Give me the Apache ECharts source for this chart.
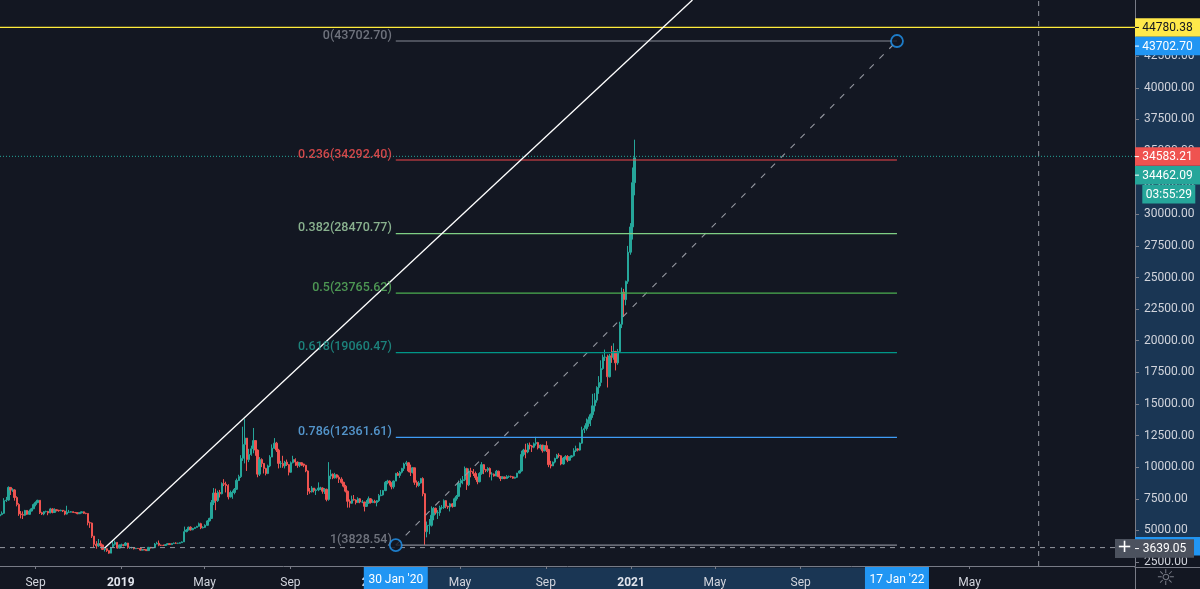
<!DOCTYPE html>
<html>
<head>
<meta charset="utf-8">
<title>BTC fib chart</title>
<style>html,body{margin:0;padding:0;background:#131722}#main{width:1200px;height:589px}</style>
<script src="https://cdn.jsdelivr.net/npm/echarts@6/dist/echarts.min.js"></script>
</head>
<body>
<div id="main"></div>
<script type="text/javascript">
// 3 day candles, first one on 12 Jul 2018, ten candles per row
var candleStart = '2018-07-12';
var candleDays = 3;
var closes = [
    6250,6350,7350,7400,8400,8200,8200,7600,7050,6300,
    6250,6200,6580,6270,6530,6710,7040,7200,7380,6400,
    6300,6480,6500,6380,6700,6420,6630,6590,6550,6590,
    6530,6290,6440,6440,6480,6420,6400,6320,6390,6470,
    6350,6340,5610,5580,4550,3900,3780,3950,3850,3500,
    3550,3400,3200,3650,3900,4050,3600,3850,3850,3820,
    4000,3650,3650,3650,3550,3580,3570,3440,3480,3470,
    3400,3660,3610,3630,3920,3980,3830,3820,3810,3870,
    3950,3880,3960,3990,3980,3980,4030,4090,4900,5030,
    5250,5050,5150,5230,5320,5530,5200,5240,5400,5750,
    5950,7200,7950,7350,8000,7900,8700,8650,8550,7650,
    8000,8000,8250,8950,9250,10700,11800,12300,10600,11000,
    11450,12100,11350,9450,10600,10300,9900,9500,10100,10800,
    11500,11900,11350,10300,10300,10100,10400,10200,9600,10350,
    10600,10400,10150,10350,10250,10150,9700,8100,8050,8350,
    8150,8200,8350,8350,8100,8250,7450,9300,9450,9150,
    9400,9200,9050,8800,8500,8100,7300,7150,7450,7400,
    7200,7500,7250,7250,6900,7150,7500,7200,7300,7200,
    7350,7750,7800,8150,8800,8900,8750,8450,8900,9500,
    9350,9600,9900,10250,10350,9700,9600,9950,8800,8550,
    8750,9100,7900,4900,5400,5400,6200,6750,6400,6400,
    6800,6800,7350,6900,6850,7100,6900,7500,7700,8750,
    8950,9000,9900,8600,9700,9650,9500,9180,8850,9500,
    10200,9800,9750,9900,9450,9450,9300,9680,9250,9100,
    9230,9100,9250,9270,9240,9130,9200,9530,9700,11000,
    11350,11200,11750,11680,11580,11850,11950,11520,11750,11300,
    11700,11400,10200,10100,10400,10680,10950,10900,10250,10720,
    10850,10550,10800,10900,11300,11450,11350,11900,12950,13050,
    13450,13750,14150,14850,15300,16300,16700,17800,18700,18700,
    17150,18800,18700,19150,18250,19150,21300,23850,23250,24700,
    27000,29000,32500,34462
];
var lows = [
    6070,6200,6300,7250,7350,7800,8050,7350,6900,6150,
    5950,5900,6150,6220,6250,6500,6680,6900,7150,6300,
    6220,6200,6420,6200,6350,6350,6400,6500,6480,6520,
    6450,6200,6250,6380,6420,6380,6360,6280,6300,6350,
    6300,6280,5400,5200,4400,3650,3550,3700,3720,3450,
    3330,3300,3150,3200,3640,3800,3550,3580,3700,3740,
    3780,3550,3540,3560,3500,3530,3540,3400,3430,3440,
    3370,3380,3570,3590,3620,3900,3750,3760,3780,3790,
    3850,3840,3860,3950,3930,3920,3950,4020,4080,4850,
    5000,4980,5020,5120,5220,5300,5100,5150,5200,5400,
    5700,5900,7000,6600,7250,7600,7850,8500,8000,7450,
    7600,7500,7850,8200,8900,9150,10500,10300,9700,10400,
    10900,11100,10900,9200,9300,10000,9500,9350,9450,10000,
    10800,11450,11200,9900,9950,9950,9900,10100,9350,9550,
    10300,10100,9950,10000,10100,10000,9600,7800,7900,8000,
    8000,7800,8100,8200,7900,7880,7300,7350,9050,9050,
    9100,9100,8750,8700,8400,8000,6800,6800,7100,7350,
    7050,7180,7150,7150,6500,6850,7100,7120,7160,7150,
    6900,7250,7700,7750,8100,8650,8550,8250,8300,8900,
    9300,9150,9500,9700,10100,9600,9300,9500,8600,8400,
    8450,8700,7700,3850,4450,4700,5300,5800,6250,5900,
    6150,6650,6700,6750,6700,6500,6800,6850,7350,7650,
    8400,8650,8900,8200,8500,9200,9300,9000,8650,8800,
    9400,9450,9600,9600,9200,8950,9250,9300,9200,8900,
    9050,9050,9080,9150,9170,9080,9100,9150,9500,9650,
    10850,10700,11100,11400,11200,11500,11700,11400,11400,11150,
    11250,11200,10000,9900,10100,10300,10650,10750,10150,10200,
    10600,10400,10500,10750,10850,11200,11250,11300,11850,12700,
    12900,13200,13250,13900,14400,15100,15800,16400,17700,18400,
    16300,17100,18250,18500,17650,18100,19200,21000,21900,22800,
    24500,26800,28000,31500
];
var highs = [
    6400,6500,7550,7650,8480,8350,8330,8250,7700,7150,
    6530,6500,6620,6600,6650,6780,7130,7300,7420,7400,
    6470,6530,6560,6540,6780,6750,6750,6650,6620,6640,
    6610,6560,6950,6620,6530,6500,6450,6430,6430,6480,
    6500,6400,6350,5700,5620,4550,4150,4320,4200,3880,
    3600,3580,3420,3700,4150,4200,4080,3880,3950,3900,
    4080,4010,3720,3700,3680,3620,3600,3590,3520,3510,
    3480,3690,3690,3660,4000,4100,4200,3870,3870,3900,
    3980,3960,3990,4040,4060,4020,4060,4130,5300,5100,
    5300,5320,5200,5280,5360,5620,5600,5330,5480,5800,
    6000,7400,8350,8300,8150,8200,8800,9050,8850,8650,
    8150,8150,8350,9100,9400,10950,13200,13800,12300,11450,
    11700,13100,12100,11400,10800,10700,10150,9950,10200,10950,
    11800,12300,12000,11450,10500,10900,10500,10600,10250,10450,
    10900,10700,10450,10400,10380,10250,10180,9750,8350,8500,
    8350,8300,8800,8450,8400,8350,8300,10400,9800,9500,
    9550,9450,9350,9200,8850,8600,8150,7450,7750,7800,
    7450,7620,7550,7400,7250,7400,7680,7550,7450,7420,
    7400,7880,8200,8200,8900,9000,8950,8800,8950,9550,
    9620,9700,9950,10350,10500,10300,10200,10000,9950,8950,
    8900,9150,9200,7950,5700,5900,6900,6850,6800,6600,
    6950,7000,7450,7400,6950,7180,7150,7600,7800,8950,
    9100,9300,10050,9950,9900,9950,9850,9650,9250,9600,
    10400,10250,9850,10000,9980,9600,9500,9780,9720,9200,
    9280,9250,9370,9340,9330,9290,9250,9550,9750,11300,
    11450,11850,11900,11950,11750,11950,12400,12000,11800,11750,
    11750,12050,11450,10500,10450,10750,11050,11100,10950,10800,
    10950,10950,10850,10950,11500,11700,11500,11950,13200,13300,
    13850,14000,14250,15800,15850,16400,17200,18450,18900,19300,
    18900,18950,19600,19800,19200,19350,21500,24200,24100,24750,
    27500,29300,33700,35900
];

var fibLevels = ['0', '0.236', '0.382', '0.5', '0.618', '0.786', '1'];
var fibPrices = [43702.70, 34292.40, 28470.77, 23765.62, 19060.47, 12361.61, 3828.54];
var fibStartDate = '2020-01-30';
var fibEndDate = '2022-01-17';
var trendDates = ['2018-12-09', '2021-03-30'];
var trendPrices = [3605, 46950];

var yTicks = [2500,5000,7500,10000,12500,15000,17500,20000,22500,25000,27500,30000,32500,35000,37500,40000,42500,45000];
var xTickDates = ['2018-09-01','2019-01-01','2019-05-01','2019-09-01','2020-01-01','2020-05-01','2020-09-01','2021-01-01','2021-05-01','2021-09-01','2022-01-01','2022-05-01'];
var xTickLabels = ['Sep','2019','May','Sep','2020','May','Sep','2021','May','Sep','2022','May'];

var yellowPrice = 44780.38;
var lastPrice = 34462.09;
var markPrice = 34583.21;
var crossPrice = 3639.05;
var crossDate = '2022-08-08';
var countdown = '03:55:29';

var BG = '#131722', AXIS = '#787b86', TEXT = '#d1d4dc', TINT = '#1a3654', BLUE = '#2196f3';
var UP = '#26a69a', DOWN = '#ef5350', CROSS = '#9598a1';
var FONT = 'Roboto';
var fibCaptionColors = ['#868993', '#ff5252', '#a8d8aa', '#5cb860', '#1f9e92', '#64b5f6', '#868993'];
var fibLineColors = ['#868993', '#f0474a', '#7fcf84', '#4caf50', '#009688', '#3f9cf5', '#868993'];

function ms(d) { return +new Date(d + 'T00:00:00Z'); }

var xMin = ms('2018-07-12'), xMax = ms('2022-12-24');
var yMin = 2184, yMax = 46947;

var candles = [];
for (var i = 0; i < closes.length; i++) {
    candles.push([ms(candleStart) + i * candleDays * 86400000, i == 0 ? 6150 : closes[i - 1], closes[i], lows[i], highs[i]]);
}

var xTickMs = xTickDates.map(ms);

// price tag on the right strip, dy moves it when tags would collide
function priceFlag(price, text, bg, fg, dy, width, x) {
    return {
        coord: [x === undefined ? 0.5 : x, price],
        symbol: 'rect',
        symbolSize: [width || 65, 18.5],
        symbolOffset: [0, dy || 0],
        itemStyle: { color: bg },
        label: {
            show: text != '', formatter: text, color: fg, fontFamily: FONT, fontSize: 12,
            position: 'inside', align: 'center', offset: [0, 0.5]
        }
    };
}
// little tick at the left edge of a tag
function flagTick(price, fg, dy) {
    return {
        coord: [0.03, price],
        symbol: 'rect',
        symbolSize: [4, 1],
        symbolOffset: [0, dy || 0],
        itemStyle: { color: fg },
        label: { show: false }
    };
}
function dateFlag(date, text) {
    return {
        coord: [ms(date), 0.5],
        symbol: 'rect',
        symbolSize: [64, 22],
        itemStyle: { color: BLUE },
        label: { show: true, formatter: text, color: '#fff', fontFamily: FONT, fontSize: 12, position: 'inside', offset: [0, 2] }
    };
}
function straightLine(points, style, z) {
    return { type: 'line', z: z || 4, silent: true, symbol: 'none', data: points, lineStyle: style };
}

var series = [
    {
        type: 'candlestick', data: candles, barWidth: 1.9, z: 2, silent: true,
        itemStyle: { color: UP, color0: DOWN, borderColor: UP, borderColor0: DOWN, borderWidth: 1 }
    },
    straightLine([[xMin, yellowPrice], [xMax, yellowPrice]], { color: '#ffeb3b', width: 1.2 }),
    straightLine([[xMin, markPrice], [xMax, markPrice]], { color: UP, width: 1, type: [1, 2] }),
    straightLine([[xMin, crossPrice], [xMax, crossPrice]], { color: CROSS, width: 1, type: [5, 5] }),
    straightLine([[ms(crossDate), yMin], [ms(crossDate), yMax]], { color: CROSS, width: 1, type: [5, 5] }),
    straightLine([[ms(trendDates[0]), trendPrices[0]], [ms(trendDates[1]), trendPrices[1]]], { color: '#fff', width: 1.3 }, 5),
    straightLine([[ms(fibStartDate), fibPrices[6]], [ms(fibEndDate), fibPrices[0]]], { color: CROSS, width: 1.1, type: [6, 8] })
];

fibLevels.forEach(function (lv, i) {
    series.push(straightLine([[ms(fibStartDate), fibPrices[i]], [ms(fibEndDate), fibPrices[i]]], { color: fibLineColors[i], width: 1.2 }));
});

series.push({
    // fib captions, left of the levels
    type: 'scatter', z: 6, silent: true, symbolSize: 0,
    data: fibLevels.map(function (lv, i) {
        return {
            value: [ms(fibStartDate), fibPrices[i]],
            label: {
                show: true, position: 'left', distance: 4, offset: [0, -5.5],
                formatter: lv + '(' + fibPrices[i].toFixed(2) + ')',
                color: fibCaptionColors[i], fontFamily: FONT, fontSize: 12.5, fontWeight: 500
            }
        };
    })
});
series.push({
    // drag handles of the fib tool
    type: 'scatter', z: 7, silent: true, symbol: 'circle', symbolSize: 12,
    itemStyle: { color: BG, borderColor: BLUE, borderWidth: 1.8 },
    data: [[ms(fibStartDate), fibPrices[6]], [ms(fibEndDate), fibPrices[0]]]
});
series.push({
    type: 'line', xAxisIndex: 1, yAxisIndex: 1, data: [], z: 10, silent: true,
    markPoint: {
        silent: true, animation: false,
        data: [
            priceFlag(fibPrices[6], '', BLUE, '#fff', 0),
            priceFlag(yellowPrice, yellowPrice.toFixed(2), '#ffe94a', '#131722', 0),
            flagTick(yellowPrice, '#131722', 0),
            priceFlag(fibPrices[0], fibPrices[0].toFixed(2), BLUE, '#fff', 5),
            flagTick(fibPrices[0], '#fff', 5),
            priceFlag(markPrice, markPrice.toFixed(2), DOWN, '#fff', 0),
            flagTick(markPrice, '#fff', 0),
            priceFlag(lastPrice, lastPrice.toFixed(2), UP, '#fff', 17),
            flagTick(lastPrice, '#fff', 17),
            priceFlag(lastPrice, countdown, UP, '#fff', 36, 53, 0.52),
            priceFlag(crossPrice, crossPrice.toFixed(2), '#4c525e', '#fff', 0, 59, 0.454),
            flagTick(crossPrice, '#fff', 0)
        ]
    }
});
series.push({
    type: 'line', xAxisIndex: 2, yAxisIndex: 2, data: [], z: 10, silent: true,
    markPoint: {
        silent: true, animation: false,
        data: [dateFlag(fibStartDate, "30 Jan '20"), dateFlag(fibEndDate, "17 Jan '22")]
    }
});

var myChart = echarts.init(document.getElementById('main'), null, { renderer: 'canvas' });
myChart.setOption({
    animation: false,
    backgroundColor: BG,
    textStyle: { fontFamily: FONT },
    grid: [
        { left: 0, right: 65, top: 0, bottom: 22 },
        { left: 1135, right: 0, top: 0, bottom: 22 },
        { left: 0, right: 65, top: 567, bottom: 0 }
    ],
    xAxis: [
        {
            type: 'value', gridIndex: 0, min: xMin, max: xMax, z: 3,
            axisLine: { show: true, onZero: false, lineStyle: { color: AXIS, width: 1 } },
            axisTick: { show: true, length: 3, lineStyle: { color: AXIS }, customValues: xTickMs },
            splitLine: { show: false },
            axisLabel: {
                color: TEXT, fontFamily: FONT, fontSize: 12, margin: 11, hideOverlap: false, customValues: xTickMs,
                formatter: function (v) {
                    var s = xTickLabels[xTickMs.indexOf(v)] || '';
                    return /^\d/.test(s) ? '{b|' + s + '}' : s;
                },
                rich: { b: { color: '#e0e3eb', fontFamily: FONT, fontSize: 12, fontWeight: 'bold' } }
            }
        },
        {
            type: 'value', gridIndex: 1, min: 0, max: 1, z: 3,
            axisLine: { show: true, onZero: false, lineStyle: { color: AXIS, width: 1 } },
            axisTick: { show: false }, axisLabel: { show: false }, splitLine: { show: false }
        },
        {
            type: 'value', gridIndex: 2, min: xMin, max: xMax, show: false
        }
    ],
    yAxis: [
        {
            type: 'value', gridIndex: 0, position: 'right', min: yMin, max: yMax, z: 3,
            axisLine: { show: true, onZero: false, lineStyle: { color: AXIS, width: 1 } },
            axisTick: { show: true, length: 4, lineStyle: { color: AXIS }, customValues: yTicks },
            splitLine: { show: false },
            axisLabel: {
                color: TEXT, fontFamily: FONT, fontSize: 12, margin: 9, hideOverlap: false, customValues: yTicks,
                padding: [3, 0, 0, 0],
                formatter: function (v) { return v.toFixed(2); }
            }
        },
        { type: 'value', gridIndex: 1, min: yMin, max: yMax, show: false },
        {
            type: 'value', gridIndex: 2, position: 'right', min: 0, max: 1, z: 3,
            axisLine: { show: true, onZero: false, lineStyle: { color: AXIS, width: 1 } },
            axisTick: { show: false }, axisLabel: { show: false }, splitLine: { show: false }
        }
    ],
    series: series
});

// blue bands behind the axes, placed through the strip axes once they exist
var bandTop = myChart.convertToPixel({ yAxisIndex: 1 }, fibPrices[0]);
var bandBottom = myChart.convertToPixel({ yAxisIndex: 1 }, fibPrices[6]);
var bandLeft = myChart.convertToPixel({ xAxisIndex: 2 }, ms(fibStartDate));
var bandRight = myChart.convertToPixel({ xAxisIndex: 2 }, ms(fibEndDate));
myChart.setOption({
    graphic: [
        { type: 'rect', z: 2.5, x: 1135.5, y: bandTop, shape: { width: 65, height: bandBottom - bandTop }, style: { fill: TINT } },
        { type: 'rect', z: 2.5, x: bandLeft, y: 567.5, shape: { width: bandRight - bandLeft, height: 22 }, style: { fill: TINT } },
        { type: 'rect', z: 20, x: 1115, y: 539, shape: { width: 20, height: 19 }, style: { fill: '#4c525e' } },
        { type: 'text', z: 21, x: 1117, y: 538, style: { text: '+', fill: '#fff', font: '18px "DejaVu Sans"' } },
        { type: 'text', z: 21, x: 1156, y: 568, style: { text: '\u263C', fill: '#787b86', font: '22px "DejaVu Sans"' } }
    ]
});
</script>
</body>
</html>
